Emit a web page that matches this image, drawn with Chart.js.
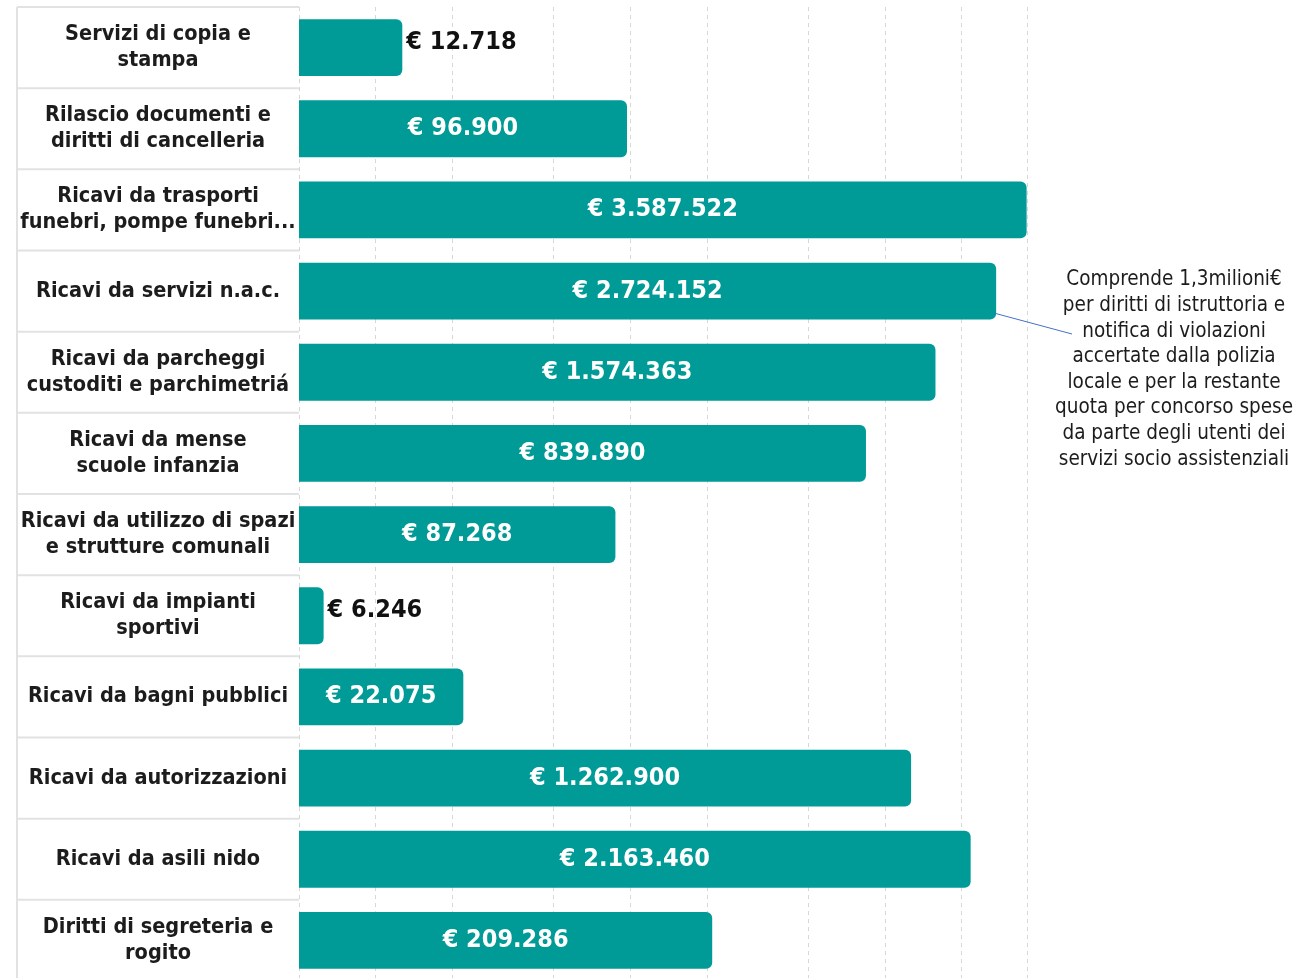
<!DOCTYPE html>
<html>
<head>
<meta charset="utf-8">
<script src="https://cdn.jsdelivr.net/npm/chart.js@4.4.0/dist/chart.umd.min.js"></script>
<style>
html, body { margin: 0; padding: 0; background: #fff; overflow: hidden; }
#wrap { width: 1311px; height: 982px; }
</style>
</head>
<body>
<div id="wrap"><canvas id="ricaviChart"></canvas></div>
<script>
// dati
var categorie = [
    ['Servizi di copia e', 'stampa'],
    ['Rilascio documenti e', 'diritti di cancelleria'],
    ['Ricavi da trasporti', 'funebri, pompe funebri...'],
    ['Ricavi da servizi n.a.c.'],
    ['Ricavi da parcheggi', 'custoditi e parchimetriá'],
    ['Ricavi da mense', 'scuole infanzia'],
    ['Ricavi da utilizzo di spazi', 'e strutture comunali'],
    ['Ricavi da impianti', 'sportivi'],
    ['Ricavi da bagni pubblici'],
    ['Ricavi da autorizzazioni'],
    ['Ricavi da asili nido'],
    ['Diritti di segreteria e', 'rogito']
];
var valori = [12718, 96900, 3587522, 2724152, 1574363, 839890, 87268, 6246, 22075, 1262900, 2163460, 209286];
var tickGriglia = [5000, 10000, 20000, 50000, 100000, 200000, 500000, 1000000, 2000000, 3600000];
var nota = [
    'Comprende 1,3milioni€',
    'per diritti di istruttoria e',
    'notifica di violazioni',
    'accertate dalla polizia',
    'locale e per la restante',
    'quota per concorso spese',
    'da parte degli utenti dei',
    'servizi socio assistenziali'
];

var FONT = '"DejaVu Sans Condensed", "DejaVu Sans", sans-serif';

function euro(v) {
    return '€ ' + String(v).replace(/\B(?=(\d{3})+(?!\d))/g, '.');
}

// linee della tabella delle etichette
var tabella = {
    id: 'tabella',
    beforeDraw: function (chart) {
        var ctx = chart.ctx, y = chart.scales.y, area = chart.chartArea;
        ctx.save();
        ctx.strokeStyle = '#e2e2e2';
        ctx.lineWidth = 2;
        ctx.beginPath();
        ctx.moveTo(17, area.top);
        ctx.lineTo(17, area.bottom);
        var bordi = [area.top];
        for (var i = 1; i < categorie.length; i++) {
            bordi.push((y.getPixelForValue(i - 1) + y.getPixelForValue(i)) / 2);
        }
        bordi.forEach(function (b) {
            ctx.moveTo(17, b);
            ctx.lineTo(area.left, b);
        });
        ctx.stroke();
        ctx.restore();
    },
    afterDraw: function (chart) {
        var ctx = chart.ctx, y = chart.scales.y;
        ctx.save();
        // etichette categorie
        ctx.font = 'bold 21.5px ' + FONT;
        ctx.fillStyle = '#1c1c1c';
        ctx.textAlign = 'center';
        ctx.textBaseline = 'middle';
        categorie.forEach(function (righe, i) {
            var py = y.getPixelForValue(i);
            righe.forEach(function (r, j) {
                ctx.fillText(r, 158, py + (j - (righe.length - 1) / 2) * 26);
            });
        });
        // valori sulle barre
        ctx.font = 'bold 25px ' + FONT;
        var meta = chart.getDatasetMeta(0);
        meta.data.forEach(function (bar, i) {
            var t = euro(valori[i]);
            var w = ctx.measureText(t).width;
            if (w + 16 < bar.x - bar.base) {
                ctx.fillStyle = '#ffffff';
                ctx.textAlign = 'center';
                ctx.fillText(t, (bar.x + bar.base) / 2, bar.y);
            } else {
                ctx.fillStyle = '#111111';
                ctx.textAlign = 'left';
                ctx.fillText(t, bar.x + 4, bar.y - 5);
            }
        });
        // nota
        var b4 = meta.data[3];
        ctx.strokeStyle = '#4472c4';
        ctx.lineWidth = 1;
        ctx.beginPath();
        ctx.moveTo(b4.x - 2, b4.y + 22);
        ctx.lineTo(1072, 334);
        ctx.stroke();
        ctx.font = '20.5px ' + FONT;
        ctx.fillStyle = '#1c1c1c';
        ctx.textAlign = 'center';
        nota.forEach(function (r, j) {
            ctx.fillText(r, 1174, 280 + j * 25.6);
        });
        ctx.restore();
    }
};

var ctxRicavi = document.getElementById('ricaviChart').getContext('2d');
var ricaviChart = new Chart(ctxRicavi, {
    type: 'bar',
    data: {
        labels: categorie,
        datasets: [{
            data: valori,
            backgroundColor: '#009b96',
            borderRadius: 6,
            barPercentage: 0.7,
            categoryPercentage: 1
        }]
    },
    options: {
        indexAxis: 'y',
        responsive: true,
        maintainAspectRatio: false,
        animation: false,
        layout: { padding: { top: 7, right: 284, bottom: 1, left: 0 } },
        plugins: {
            legend: { display: false },
            tooltip: { enabled: false }
        },
        scales: {
            x: {
                type: 'logarithmic',
                min: 5000,
                max: 3600000,
                afterBuildTicks: function (s) {
                    s.ticks = tickGriglia.map(function (v) { return { value: v }; });
                },
                afterFit: function (s) { s.height = 0; },
                ticks: { display: false },
                grid: { color: '#d6d6d6', drawTicks: false },
                border: { display: false, dash: [4, 4] }
            },
            y: {
                afterFit: function (s) { s.width = 299; },
                ticks: { display: false },
                grid: { display: false },
                border: { display: false }
            }
        }
    },
    plugins: [tabella]
});
</script>
</body>
</html>
